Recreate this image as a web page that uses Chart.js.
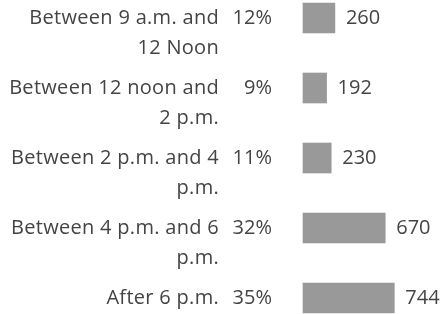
<!DOCTYPE html>
<html>
<head>
<meta charset="utf-8">
<script src="https://cdn.jsdelivr.net/npm/chart.js@4"></script>
<style>
  html, body { margin: 0; padding: 0; background: #fff; }
  #wrap { width: 443px; height: 314px; }
</style>
</head>
<body>
<div id="wrap"><canvas id="timeChart"></canvas></div>
<script>
const categories = [
    ['Between 9 a.m. and', '12 Noon'],
    ['Between 12 noon and', '2 p.m.'],
    ['Between 2 p.m. and 4', 'p.m.'],
    ['Between 4 p.m. and 6', 'p.m.'],
    ['After 6 p.m.']
];
const shares = ['12%', '9%', '11%', '32%', '35%'];
const counts = [260, 192, 230, 670, 744];

const textColor = '#444444';
const fontFamily = '"Open Sans", sans-serif';
const font = '20px ' + fontFamily;

// category names, percentages and the count at the end of each bar
const rowLabels = {
    id: 'rowLabels',
    afterDatasetsDraw(chart) {
        const ctx = chart.ctx;
        const yScale = chart.scales.y;
        const meta = chart.getDatasetMeta(0);
        ctx.save();
        ctx.font = font;
        ctx.fillStyle = textColor;
        ctx.textBaseline = 'middle';
        categories.forEach((lines, i) => {
            const y = yScale.getPixelForTick(i);
            ctx.textAlign = 'right';
            ctx.letterSpacing = '0.3px';
            lines.forEach((line, j) => ctx.fillText(line, 219, y + j * 30));
            ctx.letterSpacing = '0px';
            ctx.fillText(shares[i], 272, y);
            ctx.textAlign = 'left';
            const bar = meta.data[i];
            ctx.fillText(counts[i], bar.x + 11, bar.y);
        });
        ctx.restore();
    }
};

const timeCtx = document.getElementById('timeChart').getContext('2d');
new Chart(timeCtx, {
    type: 'bar',
    data: {
        labels: categories.map(l => l.join(' ')),
        datasets: [{
            data: counts,
            backgroundColor: '#999999',
            barThickness: 30,
            clip: false
        }]
    },
    options: {
        indexAxis: 'y',
        responsive: true,
        maintainAspectRatio: false,
        animation: false,
        layout: { padding: { top: 18, bottom: 16, left: 303, right: 5 } },
        plugins: {
            legend: { display: false },
            tooltip: { enabled: false }
        },
        scales: {
            x: { display: false, min: 0, max: 1100 },
            y: { display: false, offset: false }
        }
    },
    plugins: [rowLabels]
});
</script>
</body>
</html>
